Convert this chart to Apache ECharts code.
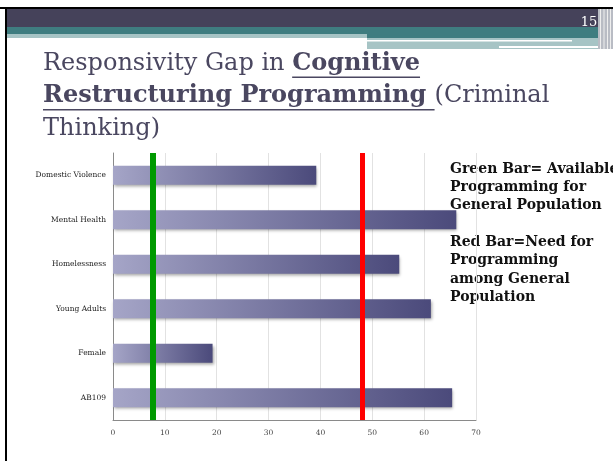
<!DOCTYPE html>
<html>
<head>
<meta charset="utf-8">
<script src="https://cdn.jsdelivr.net/npm/echarts@6/dist/echarts.min.js"></script>
<style>
  html, body { margin: 0; padding: 0; background: #fff; }
  #chart { width: 613px; height: 461px; }
</style>
</head>
<body>
<div id="chart"></div>
<script>
// Programme categories, top to bottom
const categories = ['Domestic Violence', 'Mental Health', 'Homelessness', 'Young Adults', 'Female', 'AB109'];
// Percentage values per category
const values = [39.2, 66.2, 55.2, 61.3, 19.2, 65.4];
// Reference levels: programming available vs. need in the general population
const availableLevel = 7.7;
const needLevel = 48.1;
// Value axis ticks
const xTicks = [0, 10, 20, 30, 40, 50, 60, 70];

const titleFont = '"DejaVu Serif", Georgia, serif';
const titleColor = '#4a4760';

const ctx = document.createElement('canvas').getContext('2d');
function textWidth(str, size, weight) {
  ctx.font = (weight || 'normal') + ' ' + size + 'px ' + titleFont;
  return ctx.measureText(str).width;
}

// Title made of segments: [text, bold, underlined]
const titleLines = [
  [['Responsivity Gap in ', false, false], ['Cognitive', true, true]],
  [['Restructuring Programming ', true, true], ['(Criminal', false, false]],
  [['Thinking)', false, false]]
];
const titleSize = 24;
const titleX = 43;
const titleMiddles = [63.5, 96, 128.5];

const graphics = [];
// slide header bands
graphics.push({ type: 'rect', shape: { x: 0, y: 7, width: 613, height: 2 }, style: { fill: '#000' } });
graphics.push({ type: 'rect', shape: { x: 7, y: 9, width: 606, height: 18 }, style: { fill: '#45425a' } });
graphics.push({ type: 'rect', shape: { x: 7, y: 27, width: 606, height: 7 }, style: { fill: '#3f7d80' } });
graphics.push({ type: 'rect', shape: { x: 7, y: 34, width: 360, height: 4 }, style: { fill: '#a6c4c5' } });
graphics.push({ type: 'rect', shape: { x: 367, y: 34, width: 246, height: 4 }, style: { fill: '#3f7d80' } });
graphics.push({ type: 'rect', shape: { x: 367, y: 38, width: 246, height: 11 }, style: { fill: '#a6c4c5' } });
graphics.push({ type: 'rect', shape: { x: 367, y: 40, width: 205, height: 1.5 }, style: { fill: '#ffffff' } });
graphics.push({ type: 'rect', shape: { x: 499, y: 46, width: 106, height: 2 }, style: { fill: '#ffffff' } });
graphics.push({ type: 'rect', shape: { x: 598, y: 9, width: 15, height: 40 }, style: { fill: '#b9bcc4' } });
[600, 603.5, 607, 610].forEach(function (x) {
  graphics.push({ type: 'rect', shape: { x: x, y: 9, width: 1, height: 40 }, style: { fill: '#eeeeee' } });
});
// left page border
graphics.push({ type: 'rect', shape: { x: 5, y: 7, width: 2, height: 454 }, style: { fill: '#000' } });
// page number
graphics.push({ type: 'text', x: 589, y: 23, style: { text: '15', fill: '#ffffff', font: '13px ' + titleFont, align: 'center', verticalAlign: 'middle' } });

// title segments with underlines
titleLines.forEach(function (line, i) {
  let x = titleX;
  const mid = titleMiddles[i];
  line.forEach(function (seg) {
    const weight = seg[1] ? 'bold' : 'normal';
    const w = textWidth(seg[0], titleSize, weight);
    graphics.push({
      type: 'text', x: x, y: mid,
      style: { text: seg[0], fill: titleColor, font: weight + ' ' + titleSize + 'px ' + titleFont, align: 'left', verticalAlign: 'middle' }
    });
    if (seg[2]) {
      graphics.push({ type: 'rect', shape: { x: x, y: mid + 13, width: w, height: 1.5 }, style: { fill: titleColor } });
    }
    x += w;
  });
});

// legend-style notes on the right
const noteLines = [
  ['Green Bar= Available', 169], ['Programming for', 187], ['General Population', 205],
  ['Red Bar=Need for', 242], ['Programming', 260.5], ['among General', 279], ['Population', 297]
];
noteLines.forEach(function (n) {
  graphics.push({ type: 'text', x: 450, y: n[1], style: { text: n[0], fill: '#111', font: 'bold 14px ' + titleFont, align: 'left', verticalAlign: 'middle' } });
});

const chart = echarts.init(document.getElementById('chart'), null, { renderer: 'canvas' });
chart.setOption({
  animation: false,
  grid: { left: 113, right: 137, top: 153, bottom: 41, containLabel: false },
  xAxis: {
    type: 'value', min: xTicks[0], max: xTicks[xTicks.length - 1], interval: 10,
    axisLine: { show: true, lineStyle: { color: '#8a8a8a', width: 1 } },
    axisTick: { show: false },
    splitLine: { show: true, lineStyle: { color: '#e2e2e2', width: 1 } },
    axisLabel: { color: '#444', fontSize: 7.5, fontFamily: titleFont, margin: 9 }
  },
  yAxis: {
    type: 'category', data: categories, inverse: true,
    axisLine: { show: true, lineStyle: { color: '#8a8a8a', width: 1 } },
    axisTick: { show: false },
    axisLabel: { color: '#222', fontSize: 7.5, fontFamily: titleFont, margin: 7 }
  },
  series: [{
    type: 'bar', data: values, barWidth: 19,
    itemStyle: {
      color: new echarts.graphic.LinearGradient(0, 0, 1, 0, [
        { offset: 0, color: '#a5a5c7' },
        { offset: 1, color: '#4b4a7b' }
      ]),
      shadowColor: 'rgba(0,0,0,0.35)', shadowBlur: 3, shadowOffsetX: 1, shadowOffsetY: 2
    },
    markLine: {
      silent: true, symbol: 'none', label: { show: false },
      data: [
        { xAxis: availableLevel, lineStyle: { color: '#009a00', width: 6, type: 'solid' } },
        { xAxis: needLevel, lineStyle: { color: '#ff0000', width: 5, type: 'solid' } }
      ]
    }
  }],
  graphic: graphics
});
</script>
</body>
</html>
